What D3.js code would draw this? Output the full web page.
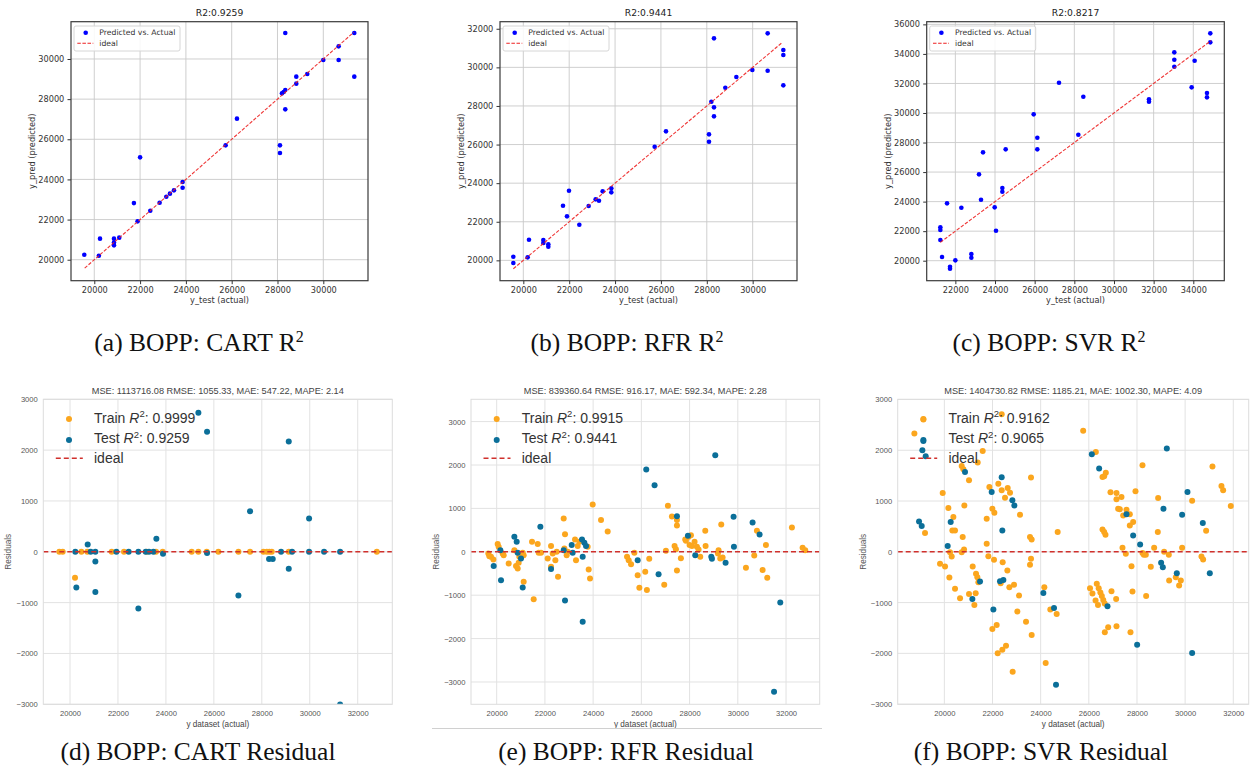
<!DOCTYPE html>
<html>
<head>
<meta charset="utf-8">
<script src="https://cdn.jsdelivr.net/npm/d3@7"></script>
<style>
body { margin: 0; background: #fff; }
</style>
</head>
<body>
<svg id="fig" width="1250" height="776"></svg>
<script>
// ---- (a) CART: predicted vs actual
var aActual = [19563,20200,20250,20860,20860,20860,21090,21730,21890,22000,22445,22853,23144,23304,23479,23857,23857,25735,26230,28108,28108,28195,28268,28340,28340,28340,28821,28821,29301,30000,30670,30670,31354,31354];
var aPred   = [20250,20200,21050,21050,20715,20860,21100,22820,21910,25100,22440,22840,23140,23290,23455,23870,23588,25698,27027,25698,25316,28289,28355,28455,27492,31296,29120,28771,29252,29950,30631,29950,31296,29120];
var aIdeal  = [19580, 31330];

// ---- (b) RFR: predicted vs actual
var bActual = [19564,19564,20189,20247,20872,20872,21090,21090,21730,21904,21991,22442,22849,23154,23299,23459,23837,23837,25727,26221,28096,28096,28198,28314,28314,28314,28808,29288,29985,30654,30654,31337,31337,31337];
var bPred   = [20190,19862,20155,21071,21054,20898,20829,20708,22832,22280,23610,21848,22815,23161,23092,23575,23731,23523,25889,26684,26528,26149,28221,27927,27461,31503,28946,29499,29862,31762,29827,30898,30639,29067];
var bIdeal  = [19564, 31300];

// ---- (c) SVR: predicted vs actual
var cActual = [21244,21244,21244,21328,21580,21731,21731,22000,22303,22807,22807,23193,23294,23395,23983,24050,24370,24370,24538,25950,26134,26134,27227,28202,28454,31765,31765,33042,33042,33042,33916,34067,34689,34689,34857,34857];
var cPred   = [22257,22076,21399,20248,23882,19594,19458,20023,23588,20451,20203,25845,24130,27335,23611,22031,24920,24672,27538,29908,28328,27538,32051,28531,31103,30923,30765,34105,33608,33135,31735,33541,31352,31058,35392,34782];
var cIdeal  = [21244, 34900];

// ---- (d) CART residuals
var dTrainX = [19555,19694,20473,20723,21739,22253,23199,23588,23866,25076,25355,25702,26189,27024,27510,28067,28206,28317,28415,29124,32796,20209];
var dTrainR = [0,0,0,0,0,0,0,0,0,0,0,0,0,0,0,0,0,0,0,0,0,-511];
var dTestX  = [20222,20264,20737,20862,21057,21057,21057,21933,22448,22851,22851,23157,23296,23477,23602,23880,25355,25716,25716,27024,27510,28303,28456,28804,29124,29124,29263,29972,29972,30598,31266,31266];
var dTestR  = [0,-702,144,0,-190,0,-793,0,0,0,-1115,0,0,0,256,-39,2734,2361,-26,-859,800,-144,-144,0,2170,-334,0,656,0,0,0,-3003];

// ---- (e) RFR residuals
var eTrainX = [19654,19696,19765,19862,20041,20083,20249,20290,20498,20733,20802,20871,20912,20940,21078,21120,21120,21466,21535,21701,
  21742,21839,22115,22254,22254,22323,22433,22489,22544,22779,22834,22807,22903,22945,23249,23290,23360,23429,23774,23816,
  23871,23982,24327,24604,25406,25475,25572,25710,25848,25917,
  26161,26230,26327,27101,27267,27475,27475,27475,26949,27018,27378,27433,27640,27820,27848,27959,28055,28000,28207,28304,
  28373,28442,28097,28650,28664,29313,29203,29175,29272,29369,30337,30682,30793,31166,31028,31221,32244,32687,32797];
var eTrainR = [-38,-100,-115,-177,177,115,-38,-77,-269,38,-330,-384,-253,-115,-23,-77,-691,230,-1091,177,
  -23,-23,-154,131,-346,-38,-192,0,-576,768,407,77,-77,0,284,-192,131,230,115,-407,
  -614,1091,730,468,-115,-192,-284,-23,-538,-829,
  -461,-883,-161,1060,814,730,607,-430,-760,23,131,61,-146,284,253,346,384,154,230,115,
  54,-115,131,484,131,630,38,-38,-154,-131,-369,-84,484,154,-422,-599,561,92,38];
var eTestX  = [19876,20180,20152,20733,20830,20871,21009,21078,21811,22254,22779,22834,23111,23152,23539,23636,23705,23567,23567,25848,
  26203,26548,29065,27475,27931,28235,28900,28926,29493,29825,29839,30613,30903,26714,31761,31503];
var eTestR  = [-330,-653,38,346,230,-23,-154,-822,576,-399,38,-1121,154,-23,284,207,131,-115,-1613,-192,
  1897,1536,2227,822,369,-77,-115,-161,-253,806,115,676,399,-515,-1167,-3222];

// ---- (f) SVR residuals
var fTrainX = [19128,18754,22381,21592,21384,20720,20789,21024,19931,20830,20166,20374,20332,20443,19197,20761,20235,20304,20817,20720,
  19820,20028,20208,21176,21315,21370,21412,20443,21024,21301,20651,21246,21758,21827,22062,21869,22242,22381,22630,22727,
  22519,21993,22076,21758,22422,22616,22339,22699,22893,23100,23142,23031,23391,23626,23557,23626,23599,23557,23599,24706,
  21993,22173,22215,22408,22561,22837,24152,24401,24664,24208,
  25765,26291,26706,26637,26568,26900,27149,27356,27149,27218,27287,27564,27426,27702,27841,27702,27938,28228,28879,26568,
  26637,26692,27398,27536,27772,27813,28228,28284,28367,28574,28713,28865,29128,29322,29336,29612,29751,29820,29875,30291,
  30678,30747,30872,31135,31509,31578,31896,27730,28381,27135,26941,26803,26664,27149,26050,26150,26280,26380,26330,26410,
  26480,26540,26600,26660];
var fTrainR = [2605,2329,2711,1987,1757,1691,1625,1408,1158,914,862,684,421,421,368,289,-7,-92,46,-7,
  -237,-289,-507,-289,-434,-500,-599,-730,-829,-816,-914,-1046,158,-86,-158,1276,1342,1211,1257,1164,
  1066,849,770,651,-204,-368,-618,-697,-651,-862,730,-1178,-1375,-1638,289,243,-138,-257,1461,388,
  -1520,-1441,-2000,-1928,-1849,-2362,-697,-1138,-1224,-2191,
  2382,1967,1559,1487,1474,1171,1158,1079,1033,849,836,829,717,737,586,520,1191,1704,1059,441,
  388,336,79,-39,-283,-783,-26,-59,-59,-296,79,388,0,-59,-566,-500,-664,-566,79,1007,
  -92,-151,414,1678,1296,1211,901,-1586,-868,-928,-776,-1487,-1586,-1467,-720,-820,-960,-1050,-630,-720,
  -800,-870,-950,-1020];
var fTestX  = [19128,19086,19225,20858,22381,21965,22824,22907,18948,19059,20263,22408,20138,21481,22311,22450,21163,22035,24111,24554,
  24637,26125,26429,29239,30097,29100,29875,30734,27564,27841,28131,29003,29073,29654,31024,26775,28007,30291];
var fTestR  = [2184,2000,1882,1572,1467,1178,1013,914,599,507,586,421,112,-586,-579,-553,-928,-1138,-809,-1105,
  -2618,1921,1638,2033,1178,849,730,566,737,322,145,-217,-303,-421,-421,-1072,-1829,-1993];

// tick values
var ticks20to30 = [20000,22000,24000,26000,28000,30000];
var ticks20to32 = [20000,22000,24000,26000,28000,30000,32000];
var ticks22to34 = [22000,24000,26000,28000,30000,32000,34000];
var ticks20to36 = [20000,22000,24000,26000,28000,30000,32000,34000,36000];
var residTicksE = [-3000,-2000,-1000,0,1000,2000,3000];

var svg = d3.select("#fig");
var minus = function(d) { return d < 0 ? "\u2212" + Math.abs(d) : String(d); };
var clipId = 0;

function addClip(left, top, w, h) {
    var id = "clip" + (clipId++);
    svg.append("clipPath").attr("id", id)
      .append("rect").attr("x", left).attr("y", top).attr("width", w).attr("height", h);
    return "url(#" + id + ")";
}

// matplotlib-ish predicted vs actual panel
function scatterPanel(p) {
    var x = d3.scaleLinear().domain(p.xDomain).range([p.left, p.left + p.w]);
    var y = d3.scaleLinear().domain(p.yDomain).range([p.top + p.h, p.top]);
    var g = svg.append("g").attr("font-family", "DejaVu Sans");

    //grid
    g.append("g").selectAll("line").data(p.xTicks).join("line")
      .attr("x1", d => x(d)).attr("x2", d => x(d))
      .attr("y1", p.top).attr("y2", p.top + p.h)
      .attr("stroke", "#c9c9c9").attr("stroke-width", 0.9);
    g.append("g").selectAll("line").data(p.yTicks).join("line")
      .attr("y1", d => y(d)).attr("y2", d => y(d))
      .attr("x1", p.left).attr("x2", p.left + p.w)
      .attr("stroke", "#c9c9c9").attr("stroke-width", 0.9);

    //axes
    var ax = g.append("g").attr("transform", "translate(0," + (p.top + p.h) + ")")
      .call(d3.axisBottom(x).tickValues(p.xTicks).tickSize(3.5).tickPadding(3).tickFormat(d3.format("d")));
    var ay = g.append("g").attr("transform", "translate(" + p.left + ",0)")
      .call(d3.axisLeft(y).tickValues(p.yTicks).tickSize(3.5).tickPadding(3.2).tickFormat(d3.format("d")));
    [ax, ay].forEach(function(a) {
        a.select(".domain").remove();
        a.selectAll("line").attr("stroke", "#333");
        a.selectAll("text").attr("font-size", 8.2).attr("fill", "#333").attr("font-family", "DejaVu Sans");
    });

    //points and ideal line
    var clip = addClip(p.left, p.top, p.w, p.h);
    var pts = g.append("g").attr("clip-path", clip);
    pts.selectAll("circle").data(p.actual).join("circle")
      .attr("cx", d => x(d)).attr("cy", (d, i) => y(p.pred[i]))
      .attr("r", 2.3).attr("fill", "#0000ff");
    pts.append("line")
      .attr("x1", x(p.ideal[0])).attr("y1", y(p.ideal[0]))
      .attr("x2", x(p.ideal[1])).attr("y2", y(p.ideal[1]))
      .attr("stroke", "#ee2222").attr("stroke-width", 1.1).attr("stroke-dasharray", "3.5,1.6")
      .attr("opacity", 0.9);

    //frame
    g.append("rect").attr("x", p.left).attr("y", p.top).attr("width", p.w).attr("height", p.h)
      .attr("fill", "none").attr("stroke", "#3a3a3a").attr("stroke-width", 1.2);

    //legend
    var lg = g.append("g").attr("transform", "translate(" + (p.left + 3) + "," + (p.top + 4.3) + ")");
    lg.append("rect").attr("width", 106).attr("height", 25).attr("rx", 2)
      .attr("fill", "#fff").attr("fill-opacity", 0.85).attr("stroke", "#d6d6d6");
    lg.append("circle").attr("cx", 11.7).attr("cy", 6.8).attr("r", 2.3).attr("fill", "#0000ff");
    lg.append("line").attr("x1", 3.3).attr("x2", 19.3).attr("y1", 17.3).attr("y2", 17.3)
      .attr("stroke", "#ee2222").attr("stroke-width", 1.1).attr("stroke-dasharray", "3.5,1.6");
    lg.append("text").attr("x", 25.3).attr("y", 6.8).attr("dy", "0.35em")
      .attr("font-size", 7.7).attr("fill", "#333").text("Predicted vs. Actual");
    lg.append("text").attr("x", 25.3).attr("y", 17.3).attr("dy", "0.35em")
      .attr("font-size", 7.7).attr("fill", "#333").text("ideal");

    //titles
    g.append("text").attr("x", p.left + p.w / 2).attr("y", 16).attr("text-anchor", "middle")
      .attr("font-size", 9.2).attr("fill", "#222").text(p.title);
    g.append("text").attr("x", p.left + p.w / 2).attr("y", p.top + p.h + 22.5).attr("text-anchor", "middle")
      .attr("font-size", 8.2).attr("fill", "#333").text("y_test (actual)");
    g.append("text").attr("transform", "translate(" + (p.left - 36) + "," + (p.top + p.h / 2) + ") rotate(-90)")
      .attr("text-anchor", "middle").attr("font-size", 8.2).attr("fill", "#333").text("y_pred (predicted)");

    //cut-off label of the neighbouring figure
    var cc = addClip(p.cutX - 6, p.top, 7.5, p.h);
    g.append("text").attr("clip-path", cc)
      .attr("transform", "translate(" + p.cutX + "," + (p.top + 130) + ") rotate(-90)")
      .attr("text-anchor", "middle").attr("font-size", 8).attr("fill", "#555").text("Residuals");

    //caption
    svg.append("text").attr("x", p.capX).attr("y", 351).attr("text-anchor", "middle")
      .attr("font-family", "Liberation Serif").attr("font-size", 25.5).attr("fill", "#111")
      .text(p.caption)
      .append("tspan").attr("font-size", 16).attr("dy", -9).text("2");
}

// yellowbrick-ish residual panel
function residPanel(p) {
    var x = d3.scaleLinear().domain(p.xDomain).range([p.left, p.left + p.w]);
    var y = d3.scaleLinear().domain(p.yDomain).range([p.top + p.h, p.top]);
    var g = svg.append("g").attr("font-family", "Liberation Sans");

    g.append("g").selectAll("line").data(p.xTicks).join("line")
      .attr("x1", d => x(d)).attr("x2", d => x(d))
      .attr("y1", p.top).attr("y2", p.top + p.h)
      .attr("stroke", "#e2e2e2").attr("stroke-width", 1);
    g.append("g").selectAll("line").data(p.yTicks).join("line")
      .attr("y1", d => y(d)).attr("y2", d => y(d))
      .attr("x1", p.left).attr("x2", p.left + p.w)
      .attr("stroke", "#e2e2e2").attr("stroke-width", 1);

    var ax = g.append("g").attr("transform", "translate(0," + (p.top + p.h) + ")")
      .call(d3.axisBottom(x).tickValues(p.xTicks).tickSize(0).tickPadding(6).tickFormat(d3.format("d")));
    var ay = g.append("g").attr("transform", "translate(" + p.left + ",0)")
      .call(d3.axisLeft(y).tickValues(p.yTicks).tickSize(0).tickPadding(5.5).tickFormat(minus));
    [ax, ay].forEach(function(a) {
        a.select(".domain").remove();
        a.selectAll("text").attr("font-size", 7.6).attr("fill", "#555").attr("font-family", "Liberation Sans");
    });

    var clip = addClip(p.left, p.top, p.w, p.h);
    var pts = g.append("g").attr("clip-path", clip);
    pts.append("g").selectAll("circle").data(p.trainX).join("circle")
      .attr("cx", d => x(d)).attr("cy", (d, i) => y(p.trainR[i]))
      .attr("r", 3).attr("fill", "#fba61e");
    pts.append("g").selectAll("circle").data(p.testX).join("circle")
      .attr("cx", d => x(d)).attr("cy", (d, i) => y(p.testR[i]))
      .attr("r", 3).attr("fill", "#0b6f99");
    pts.append("line").attr("x1", p.left).attr("x2", p.left + p.w)
      .attr("y1", y(0)).attr("y2", y(0))
      .attr("stroke", "#d0302c").attr("stroke-width", 1.5).attr("stroke-dasharray", "5,3");

    g.append("rect").attr("x", p.left).attr("y", p.top).attr("width", p.w).attr("height", p.h)
      .attr("fill", "none").attr("stroke", "#dcdcdc").attr("stroke-width", 1);

    //legend
    var lg = g.append("g").attr("transform", "translate(" + p.left + "," + p.top + ")");
    lg.append("circle").attr("cx", 25.7).attr("cy", 19.6).attr("r", 3).attr("fill", "#fba61e");
    lg.append("circle").attr("cx", 25.7).attr("cy", 40.6).attr("r", 3).attr("fill", "#0b6f99");
    lg.append("line").attr("x1", 12.5).attr("x2", 39.5).attr("y1", 59).attr("y2", 59)
      .attr("stroke", "#d0302c").attr("stroke-width", 1.5).attr("stroke-dasharray", "5,3");
    [["Train ", p.trainR2, 18.6], ["Test ", p.testR2, 39.2]].forEach(function(e) {
        var t = lg.append("text").attr("x", 50.7).attr("y", e[2]).attr("dy", "0.35em")
          .attr("font-size", 14).attr("fill", "#333");
        t.append("tspan").text(e[0]);
        t.append("tspan").attr("font-style", "italic").text("R");
        t.append("tspan").attr("font-size", 9.5).attr("dy", -5.5).text("2");
        t.append("tspan").attr("dy", 5.5).text(": " + e[1]);
    });
    lg.append("text").attr("x", 50.7).attr("y", 59).attr("dy", "0.35em")
      .attr("font-size", 14).attr("fill", "#333").text("ideal");

    g.append("text").attr("x", p.left + p.w / 2).attr("y", p.top - 5.5).attr("text-anchor", "middle")
      .attr("font-size", 9.2).attr("fill", "#444").text(p.title);
    g.append("text").attr("x", p.left + p.w / 2).attr("y", p.top + p.h + 23).attr("text-anchor", "middle")
      .attr("font-size", 8.2).attr("fill", "#444").text("y dataset (actual)");
    g.append("text").attr("transform", "translate(" + (p.left - 32) + "," + (p.top + p.h / 2) + ") rotate(-90)")
      .attr("text-anchor", "middle").attr("font-size", 8.2).attr("fill", "#555").text("Residuals");

    svg.append("text").attr("x", p.capX).attr("y", 760).attr("text-anchor", "middle")
      .attr("font-family", "Liberation Serif").attr("font-size", 25.5).attr("fill", "#111")
      .text(p.caption);
}

scatterPanel({ left: 71, top: 21.7, w: 297, h: 259, xDomain: [18983, 31952], yDomain: [18954, 31858],
    xTicks: ticks20to30, yTicks: ticks20to30, actual: aActual, pred: aPred, ideal: aIdeal,
    title: "R2:0.9259", caption: "(a) BOPP: CART R", capX: 199, cutX: 389 });
scatterPanel({ left: 500, top: 21.7, w: 297, h: 259, xDomain: [18983, 31933], yDomain: [18946, 32366],
    xTicks: ticks20to30, yTicks: ticks20to32, actual: bActual, pred: bPred, ideal: bIdeal,
    title: "R2:0.9441", caption: "(b) BOPP: RFR R", capX: 627, cutX: 818 });
scatterPanel({ left: 926.7, top: 21.7, w: 297.6, h: 259, xDomain: [20555, 35563], yDomain: [18646, 36181],
    xTicks: ticks22to34, yTicks: ticks20to36, actual: cActual, pred: cPred, ideal: cIdeal,
    title: "R2:0.8217", caption: "(c) BOPP: SVR R", capX: 1049, cutX: 1245 });

residPanel({ left: 43.3, top: 399.3, w: 349, h: 305, xDomain: [18886, 33443], yDomain: [-3000, 3000],
    xTicks: ticks20to32, yTicks: residTicksE, trainX: dTrainX, trainR: dTrainR, testX: dTestX, testR: dTestR,
    trainR2: "0.9999", testR2: "0.9259",
    title: "MSE: 1113716.08 RMSE: 1055.33, MAE: 547.22, MAPE: 2.14", caption: "(d) BOPP: CART Residual", capX: 198 });
residPanel({ left: 471, top: 399.3, w: 348.7, h: 305, xDomain: [18935, 33396], yDomain: [-3514, 3514],
    xTicks: ticks20to32, yTicks: residTicksE, trainX: eTrainX, trainR: eTrainR, testX: eTestX, testR: eTestR,
    trainR2: "0.9915", testR2: "0.9441",
    title: "MSE: 839360.64 RMSE: 916.17, MAE: 592.34, MAPE: 2.28", caption: "(e) BOPP: RFR Residual", capX: 626 });
residPanel({ left: 897.7, top: 399.3, w: 351, h: 305, xDomain: [18062, 32640], yDomain: [-3003, 3003],
    xTicks: ticks20to32, yTicks: residTicksE, trainX: fTrainX, trainR: fTrainR, testX: fTestX, testR: fTestR,
    trainR2: "0.9162", testR2: "0.9065",
    title: "MSE: 1404730.82 RMSE: 1185.21, MAE: 1002.30, MAPE: 4.09", caption: "(f) BOPP: SVR Residual", capX: 1041 });

// thin rule under panel (e)
svg.append("line").attr("x1", 432).attr("x2", 822).attr("y1", 728.5).attr("y2", 728.5)
  .attr("stroke", "#d0d0d0").attr("stroke-width", 1);
</script>
</body>
</html>
